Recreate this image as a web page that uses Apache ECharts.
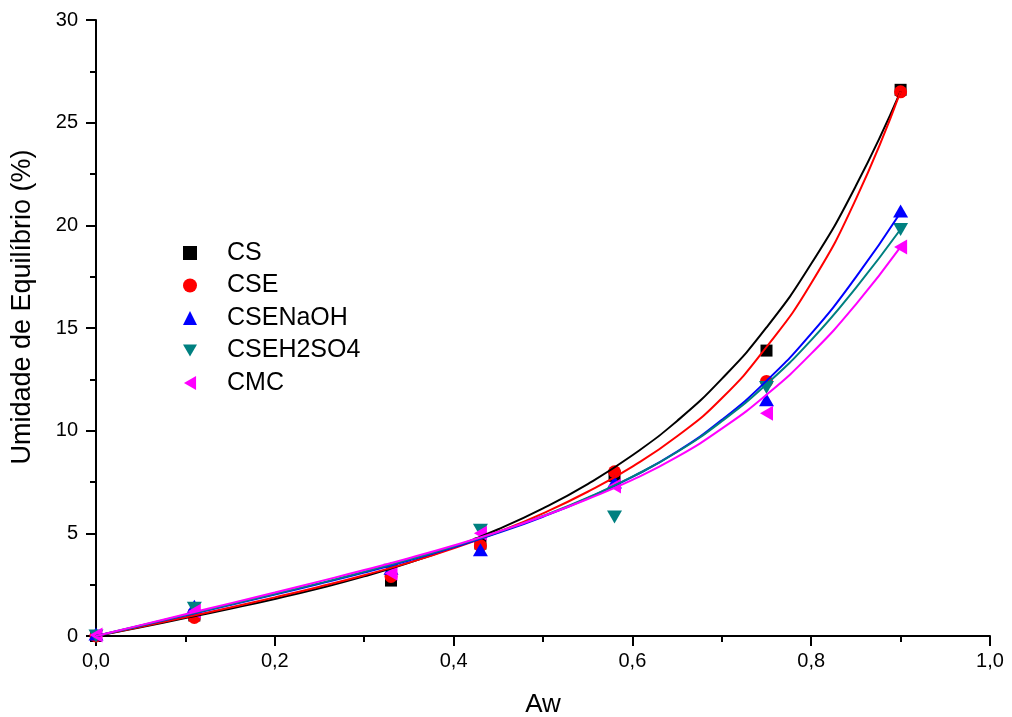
<!DOCTYPE html>
<html>
<head>
<meta charset="utf-8">
<script src="https://cdn.jsdelivr.net/npm/echarts@6/dist/echarts.min.js"></script>
<style>
  html, body { margin: 0; padding: 0; background: #fff; }
  #chart { width: 1012px; height: 717px; }
</style>
</head>
<body>
<div id="chart"></div>
<script>
// Measured points
const aw = [0, 0.11, 0.33, 0.43, 0.58, 0.75, 0.90];
const csPts = [0, 1.0, 2.7, 4.5, 7.8, 13.9, 26.6];
const csePts = [0, 0.9, 2.9, 4.4, 8.0, 12.4, 26.5];
const naohPts = [0.1, 1.45, 3.3, 4.2, 7.5, 11.5, 20.7];
const h2so4Pts = [0, 1.35, 3.2, 5.15, 5.8, 12.1, 19.8];
const cmcPts = [0.05, 1.2, 3.05, 5.0, 7.3, 10.85, 18.95];

// Fitted curves
const fitX = [0, 0.05, 0.1, 0.15, 0.2, 0.25, 0.3, 0.35, 0.4, 0.45, 0.5, 0.55, 0.6, 0.65, 0.7, 0.75, 0.8, 0.85, 0.9];
const csFit = [0, 0.43, 0.87, 1.325, 1.805, 2.325, 2.905, 3.565, 4.325, 5.2, 6.215, 7.4, 8.8, 10.475, 12.525, 15.025, 18.125, 21.925, 26.525];
const cseFit = [0, 0.45, 0.91, 1.385, 1.88, 2.4, 2.96, 3.575, 4.27, 5.065, 5.975, 7.025, 8.25, 9.725, 11.575, 14.075, 17.175, 21.275, 26.525];
const naohFit = [0, 0.5, 1.0, 1.505, 2.015, 2.54, 3.09, 3.68, 4.32, 5.02, 5.81, 6.71, 7.75, 8.975, 10.525, 12.425, 14.725, 17.475, 20.625];
const h2so4Fit = [0, 0.51, 1.02, 1.53, 2.045, 2.575, 3.13, 3.72, 4.36, 5.06, 5.85, 6.74, 7.76, 8.96, 10.46, 12.26, 14.41, 16.96, 19.81];
const cmcFit = [0, 0.53, 1.06, 1.59, 2.12, 2.66, 3.21, 3.79, 4.41, 5.08, 5.83, 6.67, 7.6, 8.72, 10.1, 11.75, 13.75, 16.15, 18.95];

const names = ['CS', 'CSE', 'CSENaOH', 'CSEH2SO4', 'CMC'];
const colors = ['#000000', '#ff0000', '#0000ff', '#008080', '#ff00ff'];
const symbols = ['rect', 'circle', 'triangle', 'path://M0,0L10,0L5,8.66Z', 'path://M0,5L8.66,0L8.66,10Z'];
const sizes = [12, 13, [15, 13], [15, 13], [13, 15]];
const pts = [csPts, csePts, naohPts, h2so4Pts, cmcPts];
const fits = [csFit, cseFit, naohFit, h2so4Fit, cmcFit];

const pair = (xs, ys) => xs.map((x, i) => [x, ys[i]]);

const series = [];
names.forEach((n, i) => {
  series.push({
    name: n, type: 'scatter', data: pair(aw, pts[i]),
    symbol: symbols[i], symbolSize: sizes[i],
    itemStyle: { color: colors[i], opacity: 1 }, z: 2, silent: true
  });
});
names.forEach((n, i) => {
  series.push({
    name: n + ' ajuste', type: 'line', data: pair(fitX, fits[i]),
    smooth: true, showSymbol: false, symbol: 'none',
    lineStyle: { color: colors[i], width: 2 }, z: 3, silent: true
  });
});

const chart = echarts.init(document.getElementById('chart'), null, { renderer: 'canvas' });
const FONT = '"Liberation Sans", Arial, sans-serif';
chart.setOption({
  animation: false,
  backgroundColor: '#ffffff',
  grid: { left: 96, right: 22, top: 20, bottom: 81, containLabel: false, outerBoundsMode: 'none' },
  legend: {
    data: names.map((n, i) => ({ name: n, icon: symbols[i] })),
    orient: 'vertical', left: 178, top: 235.5,
    itemWidth: 14, itemHeight: 14, itemGap: 7.5,
    textStyle: { fontFamily: FONT, fontSize: 25, color: '#000', padding: [0, 0, 0, 25] },
    selectedMode: false
  },
  xAxis: {
    type: 'value', min: 0, max: 1, interval: 0.2,
    name: 'Aw', nameLocation: 'middle', nameGap: 56,
    nameTextStyle: { fontFamily: FONT, fontSize: 26, color: '#000' },
    axisLine: { show: true, onZero: false, lineStyle: { color: '#000', width: 2 } },
    axisTick: { show: true, inside: false, length: 10, lineStyle: { color: '#000', width: 2 } },
    minorTick: { show: true, splitNumber: 2, length: 6, lineStyle: { color: '#000', width: 2 } },
    axisLabel: { margin: 15, fontFamily: FONT, fontSize: 20, color: '#000',
      formatter: v => v.toFixed(1).replace('.', ',') },
    splitLine: { show: false }
  },
  yAxis: {
    type: 'value', min: 0, max: 30, interval: 5,
    axisLine: { show: true, onZero: false, lineStyle: { color: '#000', width: 2 } },
    axisTick: { show: true, inside: false, length: 10, lineStyle: { color: '#000', width: 2 } },
    minorTick: { show: true, splitNumber: 2, length: 6, lineStyle: { color: '#000', width: 2 } },
    axisLabel: { margin: 18, fontFamily: FONT, fontSize: 20, color: '#000' },
    splitLine: { show: false }
  },
  graphic: [{
    type: 'text', x: 23, y: 307, rotation: Math.PI / 2,
    style: { text: 'Umidade de Equilíbrio (%)', font: '27px ' + FONT, fill: '#000',
      textAlign: 'center', textVerticalAlign: 'middle' }
  }],
  series: series
});
</script>
</body>
</html>
